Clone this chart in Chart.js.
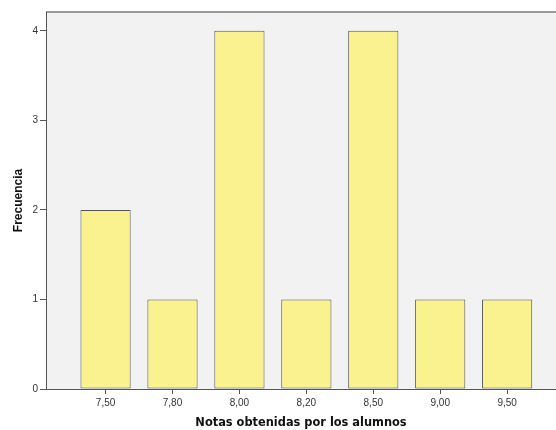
<!DOCTYPE html>
<html lang="es">
<head>
    <meta charset="UTF-8">
    <title>Notas obtenidas por los alumnos</title>
    <script src="https://cdn.jsdelivr.net/npm/chart.js"></script>
    <style>
        html, body {
            margin: 0;
            padding: 0;
            background: #ffffff;
        }
        #wrap {
            width: 556px;
            height: 430px;
        }
    </style>
</head>
<body>
    <div id="wrap"><canvas id="notasChart" width="556" height="430"></canvas></div>

    <script>
        // Data
        const notas = ['7,50', '7,80', '8,00', '8,20', '8,50', '9,00', '9,50'];
        const frecuencias = [2, 1, 4, 1, 4, 1, 1];
        const yTicks = [0, 1, 2, 3, 4];

        // Gray plot background + top frame line
        const plotBackground = {
            id: 'plotBackground',
            beforeDraw(chart) {
                const { ctx, chartArea: a } = chart;
                ctx.save();
                ctx.fillStyle = '#f2f2f2';
                ctx.fillRect(a.left, a.top, a.right - a.left, a.bottom - a.top);
                ctx.strokeStyle = '#9a9a9a';
                ctx.lineWidth = 2;
                ctx.beginPath();
                ctx.moveTo(a.left, a.top);
                ctx.lineTo(a.right, a.top);
                ctx.stroke();
                ctx.restore();
            }
        };

        const ctx = document.getElementById('notasChart').getContext('2d');
        new Chart(ctx, {
            type: 'bar',
            data: {
                datasets: [{
                    data: frecuencias.map((f, i) => ({ x: i, y: f })),
                    backgroundColor: '#faf28e',
                    borderColor: '#555555',
                    borderWidth: 1,
                    borderSkipped: false,
                    barPercentage: 0.75,
                    categoryPercentage: 1
                }]
            },
            options: {
                responsive: false,
                animation: false,
                layout: { padding: { top: 12, right: 0, bottom: 0, left: 0 } },
                plugins: {
                    legend: { display: false },
                    tooltip: { enabled: false }
                },
                scales: {
                    x: {
                        type: 'linear',
                        offset: false,
                        min: -0.89,
                        max: 6.73,
                        afterFit: s => { s.height = 41; },
                        afterBuildTicks: s => { s.ticks = notas.map((n, i) => ({ value: i })); },
                        grid: { offset: false, drawOnChartArea: false, drawTicks: true, tickLength: 5, color: '#555555' },
                        border: { color: '#555555', width: 1 },
                        ticks: {
                            callback: v => notas[v],
                            autoSkip: false,
                            maxRotation: 0,
                            padding: 3,
                            color: '#333333',
                            font: { family: 'Liberation Sans, Arial, sans-serif', size: 10 }
                        },
                        title: {
                            display: true,
                            text: 'Notas obtenidas por los alumnos',
                            color: '#111111',
                            padding: { top: 0, bottom: 0 },
                            font: { family: 'DejaVu Sans, Verdana, sans-serif', size: 11.4, weight: 'bold' }
                        }
                    },
                    y: {
                        min: 0,
                        max: 4.21,
                        afterFit: s => { s.width = 46; },
                        afterBuildTicks: s => { s.ticks = yTicks.map(v => ({ value: v })); },
                        grid: { drawOnChartArea: false, drawTicks: true, tickLength: 6, color: '#555555' },
                        border: { color: '#555555', width: 1 },
                        ticks: {
                            padding: 2,
                            color: '#333333',
                            font: { family: 'Liberation Sans, Arial, sans-serif', size: 10 }
                        },
                        title: {
                            display: true,
                            text: 'Frecuencia',
                            color: '#111111',
                            padding: { top: 11, bottom: 4 },
                            font: { family: 'Liberation Sans, Arial, sans-serif', size: 12, weight: 'bold' }
                        }
                    }
                }
            },
            plugins: [plotBackground]
        });
    </script>
</body>
</html>
